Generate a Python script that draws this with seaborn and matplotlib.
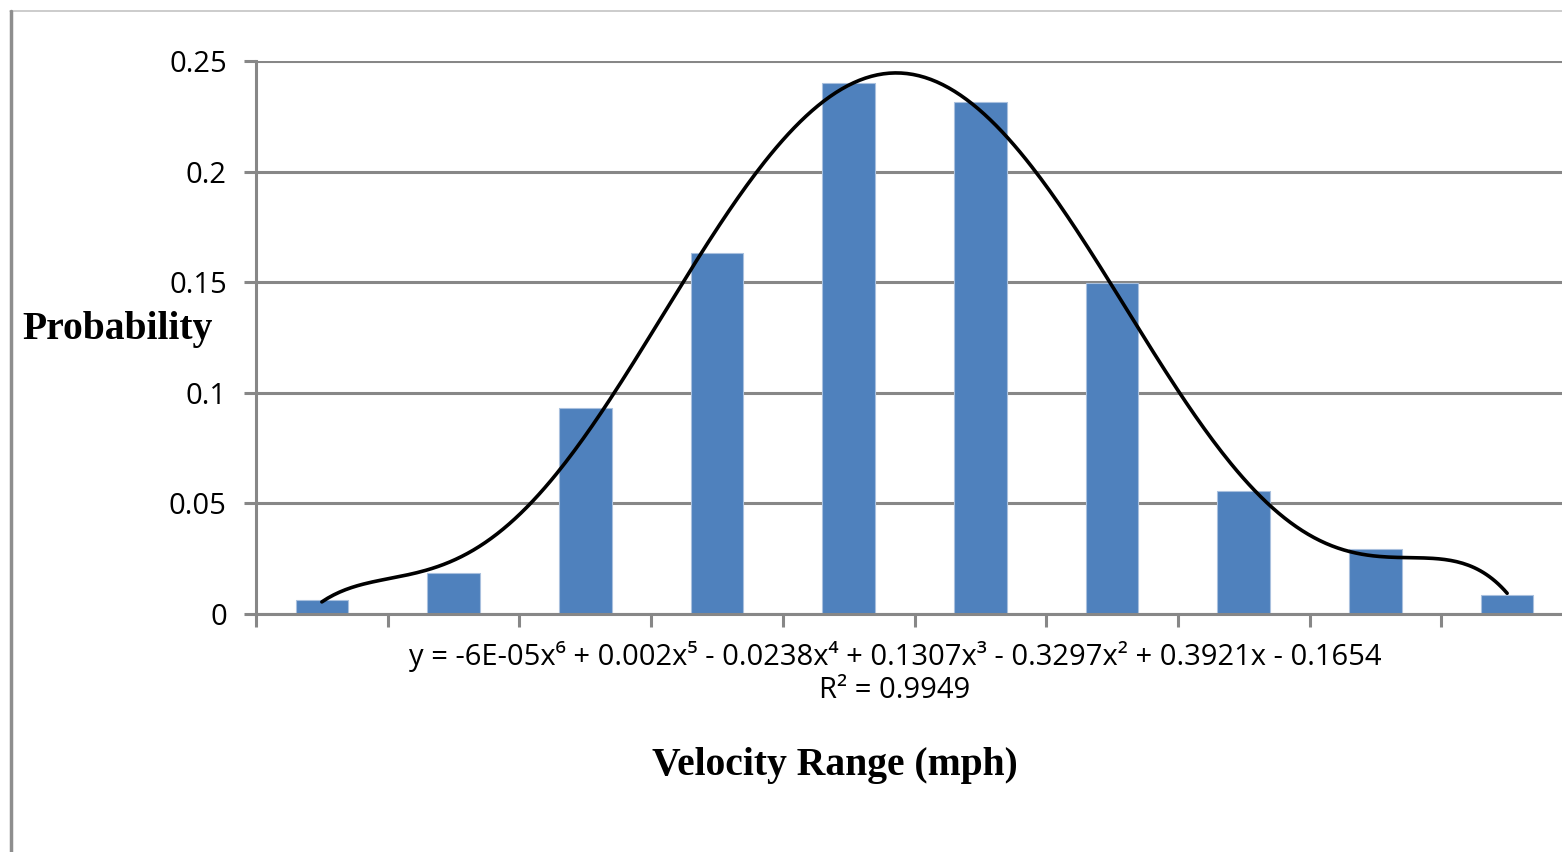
import numpy as np
import pandas as pd
import matplotlib
matplotlib.use("Agg")
import matplotlib.pyplot as plt
from matplotlib.lines import Line2D
import seaborn as sns

# ---- data ----
bins = [1, 2, 3, 4, 5, 6, 7, 8, 9, 10]
probability = [0.0065, 0.0185, 0.093, 0.163, 0.240, 0.2315, 0.1497, 0.0558, 0.0295, 0.0087]
y_ticks = [0, 0.05, 0.1, 0.15, 0.2, 0.25]
y_tick_labels = ["0", "0.05", "0.1", "0.15", "0.2", "0.25"]
equation = "y = -6E-05x\u2076 + 0.002x\u2075 - 0.0238x\u2074 + 0.1307x\u00b3 - 0.3297x\u00b2 + 0.3921x - 0.1654"
r2_text = "R\u00b2 = 0.9949"
x_title = "Velocity Range (mph)"
y_title = "Probability"

sns.set_style("white")
plt.rcParams["font.family"] = ["Open Sans", "DejaVu Sans"]
plt.rcParams["text.color"] = "black"
plt.rcParams["ytick.labelcolor"] = "black"

fig = plt.figure(figsize=(15.62, 8.52), dpi=100)
ax = fig.add_axes([256 / 1562, 1 - 614 / 852, (1573 - 256) / 1562, (614 - 61) / 852])

df = pd.DataFrame({"bin": [str(b) for b in bins], "p": probability})
sns.barplot(data=df, x="bin", y="p", color="#4F81BD", saturation=1, width=0.40,
            edgecolor="#A9C0DE", linewidth=0.8, ax=ax, zorder=2)

# 6th-order polynomial trendline (least squares, like Excel)
xb = np.array(bins, dtype=float)
coef = np.polyfit(xb, np.array(probability), 6)
xf = np.linspace(1, 10, 400)
ax.plot(xf - 1, np.polyval(coef, xf), color="black", lw=2.6, zorder=3)

ax.set_xlim(-0.5, 9.5)
ax.set_ylim(0, 0.25)
ax.set_yticks(y_ticks)
ax.set_yticklabels(y_tick_labels, fontsize=21, color="black")
ax.set_xticks(np.arange(-0.5, 10, 1))
ax.set_xticklabels([])
ax.set_xlabel("")
ax.set_ylabel("")

ax.set_axisbelow(True)
ax.yaxis.grid(True, color="#878787", lw=2.2)
ax.xaxis.grid(False)
for s in ["top", "right"]:
    ax.spines[s].set_visible(False)
for s in ["left", "bottom"]:
    ax.spines[s].set_color("#878787")
    ax.spines[s].set_linewidth(2.2)
ax.tick_params(axis="both", which="both", direction="out", length=9, width=2.2,
               color="#878787", left=True, bottom=True, pad=12)

# equation & titles
fig.text(895 / 1562, 1 - 656 / 852, equation, ha="center", va="center", fontsize=21, color="black")
fig.text(895 / 1562, 1 - 690 / 852, r2_text, ha="center", va="center", fontsize=21, color="black")
fig.text(835 / 1562, 1 - 766 / 852, x_title, ha="center", va="center", fontsize=28.5,
         fontweight="bold", family="Liberation Serif", color="black")
fig.text(118 / 1562, 1 - 330 / 852, y_title, ha="center", va="center", fontsize=28.5,
         fontweight="bold", family="Liberation Serif", color="black")

# chart-area frame (top and left edges)
fig.add_artist(Line2D([10 / 1562, 1], [1 - 11 / 852, 1 - 11 / 852], color="#C4C4C4", lw=1.2,
                      transform=fig.transFigure))
fig.add_artist(Line2D([11 / 1562, 11 / 1562], [0, 1 - 11 / 852], color="#8E8E8E", lw=2.5,
                      transform=fig.transFigure))

fig.savefig("out.png", dpi=100, facecolor="white")
